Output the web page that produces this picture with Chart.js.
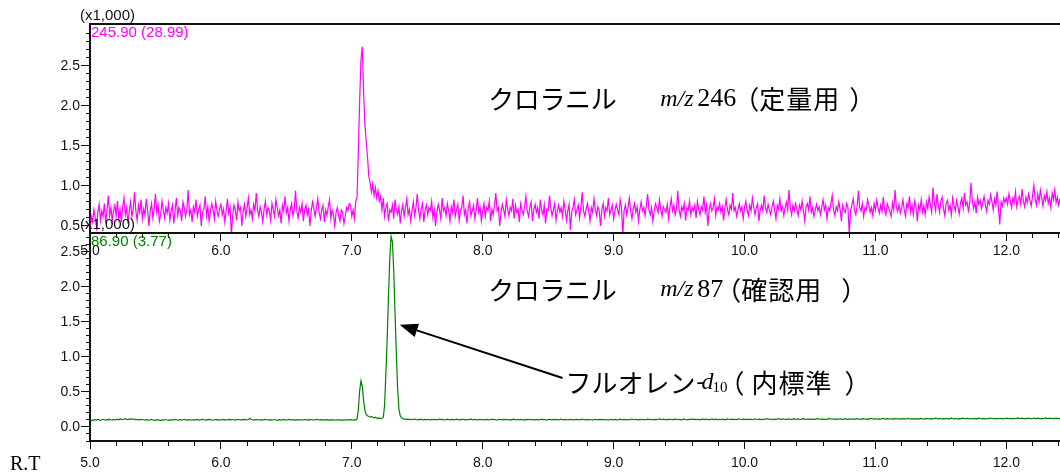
<!DOCTYPE html>
<html>
<head>
<meta charset="utf-8">
<script src="https://cdn.jsdelivr.net/npm/chart.js@4.4.1/dist/chart.umd.min.js"></script>
<style>
  html, body { margin: 0; padding: 0; background: #fff; }
  #wrap { position: relative; width: 1060px; height: 475px; overflow: hidden; }
  canvas { position: absolute; left: 0; }
  #top { top: 0; }
  #bottom { top: 205px; }
</style>
</head>
<body>
<div id="wrap">
  <canvas id="top" width="1060" height="262"></canvas>
  <canvas id="bottom" width="1060" height="270"></canvas>
</div>
<script>
// scan grid: one scan every 0.01 min from 5.00 min
const rtStart = 5.0
const rtStep = 0.01
const rtMin = 5.0
const rtMax = 12.41

// m/z 246 (quantitation ion), counts, 20 scans per row
const ion246 = [
  500,620,550,700,590,480,670,770,570,690,620,780,530,700,880,630,730,560,690,760,
  630,810,590,700,550,740,850,640,730,530,690,800,620,700,920,690,570,760,670,830,
  590,710,630,840,700,500,690,780,600,710,900,670,760,560,640,810,700,600,730,660,
  780,570,690,760,530,700,850,630,730,690,560,800,730,620,710,950,640,700,550,740,
  670,830,620,700,760,500,670,710,870,630,740,560,690,780,700,590,810,690,620,710,
  770,640,710,550,690,840,660,730,390,630,760,700,570,800,690,730,500,690,770,620,
  730,850,640,700,590,770,690,910,700,620,740,670,550,710,810,640,730,690,570,780,
  700,620,830,730,630,700,530,760,690,870,660,730,560,700,780,630,710,940,690,600,
  730,670,780,560,700,760,640,710,500,690,800,710,620,730,840,670,590,700,760,550,
  700,630,740,830,590,700,640,500,670,730,620,560,700,670,530,620,730,690,780,760,
  620,700,590,810,860,1430,2070,2580,2740,2180,1770,1560,1360,1120,1040,920,1030,880,980,850,
  940,810,870,700,850,620,730,780,560,700,670,760,590,830,700,640,740,530,690,770,
  620,730,840,640,710,560,690,800,630,730,900,690,590,710,780,550,700,760,640,730,
  690,810,600,700,500,670,770,700,590,850,690,730,630,780,690,560,740,670,830,620,
  700,770,570,690,730,880,640,700,530,730,800,630,690,760,590,700,850,670,730,560,
  690,780,620,730,690,810,560,710,640,760,910,690,730,500,670,770,700,620,830,710,
  630,730,690,840,590,760,670,710,550,780,700,640,740,870,690,620,730,800,560,700,
  770,670,730,590,830,700,640,760,530,710,690,880,730,630,700,780,570,690,760,670,
  730,620,810,700,570,690,770,450,670,730,830,640,700,760,600,730,920,690,620,710,
  780,690,560,730,670,840,710,630,740,690,500,700,780,620,730,690,850,640,700,760,
  590,690,770,700,640,830,730,390,690,760,640,730,850,690,590,710,780,670,740,560,
  700,800,690,730,630,760,900,700,640,730,560,690,780,730,670,830,710,620,740,700,
  670,770,590,730,840,690,760,640,710,940,700,620,740,690,780,570,730,700,810,640,
  730,690,760,600,810,710,640,740,700,870,670,760,500,700,780,690,730,840,630,740,
  700,780,670,740,570,730,830,700,640,760,710,910,690,730,620,700,780,690,740,590,
  730,810,700,630,760,690,850,740,640,730,780,560,700,760,690,880,730,670,770,700,
  640,740,810,700,590,760,710,840,690,740,630,730,800,700,950,730,640,760,690,780,
  710,630,760,700,810,690,560,740,780,700,870,670,730,620,700,770,690,740,640,730,
  830,700,760,590,730,690,780,880,700,630,740,690,800,710,560,760,700,670,780,730,
  400,690,760,840,700,640,740,940,730,690,780,620,730,700,830,760,670,730,630,780,
  700,820,730,660,760,680,860,700,640,780,730,680,620,790,700,950,730,680,770,660,
  730,830,700,620,780,730,870,670,760,640,810,730,560,760,700,830,670,750,640,800,
  720,860,760,670,980,790,690,900,760,670,810,860,720,630,780,820,700,760,640,850,
  760,690,820,740,650,790,850,720,910,760,800,690,780,1040,820,720,800,660,860,770,
  820,720,790,870,760,680,820,770,890,800,700,840,760,930,720,520,800,750,850,790,
  850,770,900,810,730,850,790,930,740,830,870,770,960,810,740,860,790,900,820,750,
  870,1010,840,760,900,800,950,850,750,880,820,930,780,850,730,910,830,950,790,860,
  760,840
]

// m/z 87 (qualifier ion), counts, 20 scans per row
const ion87 = [
  95,88,102,97,105,99,108,101,96,104,110,103,98,107,100,112,104,99,109,103,
  106,111,102,115,108,104,113,120,109,105,114,107,118,110,104,112,106,101,108,103,
  110,104,99,106,101,97,103,108,100,95,102,98,105,99,94,101,97,103,107,100,
  96,102,99,105,100,108,103,97,101,106,99,104,110,102,98,105,101,97,103,99,
  104,100,107,102,98,105,111,103,99,106,101,108,104,100,97,103,108,101,105,99,
  103,108,102,106,100,104,109,105,101,107,103,99,105,110,104,100,106,102,108,104,
  100,106,125,108,103,99,105,101,107,103,98,104,100,106,109,103,99,105,101,97,
  103,107,100,96,102,106,99,104,108,101,97,103,109,105,100,106,102,98,104,100,
  106,101,97,103,108,104,99,105,101,107,103,98,104,110,105,100,106,102,98,104,
  100,105,101,96,102,106,100,97,103,99,104,100,95,101,98,103,99,104,100,106,
  101,97,104,100,112,250,520,660,580,380,240,180,160,150,140,150,140,130,140,130,
  120,130,120,125,135,300,750,1250,1850,2400,2720,2650,2250,1650,1050,550,250,160,130,120,
  115,110,108,112,106,110,104,108,113,107,103,109,105,111,106,102,108,104,110,106,
  103,108,104,110,106,101,107,112,105,109,104,100,106,111,107,103,109,105,101,107,
  112,106,102,108,104,110,106,101,107,103,109,113,106,102,108,104,100,106,110,105,
  101,107,103,109,105,100,106,111,104,108,103,99,105,110,106,102,108,104,109,105,
  100,106,102,108,112,105,101,107,103,109,105,100,106,102,108,104,110,106,101,107,
  103,109,105,100,106,111,104,108,103,99,105,110,106,102,108,104,109,105,101,107,
  112,106,102,108,104,100,106,110,105,101,107,103,109,105,100,106,112,107,103,109,
  105,101,107,103,99,105,110,106,102,108,104,109,105,101,107,103,98,104,110,106,
  102,108,104,100,106,111,107,103,109,105,101,107,103,109,114,108,104,110,106,102,
  108,104,110,106,101,107,112,108,104,110,106,102,108,104,110,115,109,105,111,107,
  103,109,105,111,107,103,109,113,108,104,110,106,102,108,112,107,103,109,105,111,
  107,112,108,104,110,106,102,108,113,109,105,111,107,103,109,114,110,106,112,108,
  104,110,106,112,108,103,109,115,110,106,112,108,104,110,106,112,117,111,107,113,
  109,105,111,107,113,109,104,110,116,111,107,113,109,105,111,107,113,118,112,108,
  114,110,106,112,108,114,119,113,109,115,111,107,113,109,115,111,106,112,118,113,
  109,115,111,107,113,118,112,108,114,110,116,112,107,113,109,115,120,114,110,116,
  112,108,114,110,116,121,115,111,117,113,109,115,111,117,113,108,114,119,113,109,
  115,111,117,113,109,115,120,114,110,116,112,118,114,110,116,112,117,122,116,112,
  118,114,110,116,112,118,123,117,113,119,115,111,117,113,119,115,121,116,112,118,
  114,120,116,112,118,124,118,114,120,116,112,118,114,120,116,122,117,113,119,115,
  121,117,113,119,115,121,126,120,116,122,118,114,120,116,122,118,113,119,125,120,
  116,122,118,114,120,116,122,127,121,117,123,119,115,121,117,123,119,114,120,126,
  121,117,123,119,115,121,117,123,128,122,118,124,120,116,122,118,124,120,115,121,
  127,122,118,124,120,116,122,118,124,129,123,119,125,121,117,123,119,125,121,116,
  122,128,123,119,125,121,117,123,119,125,130,124,120,126,122,118,124,120,126,122,
  118,124
]

// intensity windows and labelled ticks of the two panels, counts
const ion246Range = [412, 3025]
const ion87Range = [-200, 2770]
const ion246Ticks = [500, 1000, 1500, 2000, 2500]
const ion87Ticks = [0, 500, 1000, 1500, 2000, 2500]

const rt = ion246.map((_, i) => +(rtStart + i * rtStep).toFixed(2))
const points = values => values.map((v, i) => ({ x: rt[i], y: v }))

const sans = "'Liberation Sans', Arial, sans-serif"
const serif = "'Liberation Serif', 'Times New Roman', serif"
const jp = "'Noto Sans CJK JP', sans-serif"
const ink = "#111"

// every 100 counts inside the window, leaving the top edge clear
function minorTicks(range) {
  const out = []
  for (let v = Math.ceil(range[0] / 100) * 100; v < range[1] - 50; v += 100) out.push({ value: v })
  return out
}

function xAxes(height, labelPad) {
  return {
    x: {
      type: "linear", position: "bottom", weight: 1, min: rtMin, max: rtMax,
      ticks: {
        stepSize: 1, includeBounds: false, autoSkip: false, maxRotation: 0,
        color: ink, padding: labelPad, font: { family: sans, size: 14 },
        callback: v => v.toFixed(1)
      },
      grid: { drawOnChartArea: false, tickLength: 8, color: ink },
      border: { color: ink, width: 2 },
      afterFit: s => { s.height = height }
    },
    xMinor: {
      type: "linear", position: "bottom", weight: 0, min: rtMin, max: rtMax,
      ticks: { display: false, stepSize: 0.2, includeBounds: false },
      grid: { drawOnChartArea: false, tickLength: 5, color: ink },
      border: { display: false },
      afterFit: s => { s.height = 0 }
    },
    xTop: {
      type: "linear", position: "top", min: rtMin, max: rtMax,
      ticks: { display: false },
      grid: { display: false },
      border: { color: ink, width: 2 },
      afterFit: s => { s.height = 0 }
    }
  }
}

function yAxes(range, majors) {
  return {
    y: {
      type: "linear", position: "left", weight: 1, min: range[0], max: range[1],
      ticks: {
        color: ink, padding: 1, autoSkip: false,
        font: { family: sans, size: 14 },
        callback: v => (v / 1000).toFixed(1)
      },
      grid: { drawOnChartArea: false, tickLength: 9, color: ink },
      border: { color: ink, width: 2 },
      afterBuildTicks: s => { s.ticks = majors.map(value => ({ value })) },
      afterFit: s => { s.width = 90 }
    },
    yMinor: {
      type: "linear", position: "left", weight: 0, min: range[0], max: range[1],
      ticks: { display: false },
      grid: { drawOnChartArea: false, tickLength: 4, color: ink },
      border: { display: false },
      afterBuildTicks: s => { s.ticks = minorTicks(range) },
      afterFit: s => { s.width = 0 }
    }
  }
}

function panelOptions(range, majors, xHeight, labelPad, padTop) {
  return {
    responsive: false,
    animation: false,
    devicePixelRatio: 1,
    events: [],
    layout: { padding: { top: padTop, left: 0, right: 0, bottom: 0 } },
    plugins: { legend: { display: false }, tooltip: { enabled: false } },
    scales: { ...xAxes(xHeight, labelPad), ...yAxes(range, majors) }
  }
}

// draws a run of text pieces along one centre line
function drawRun(ctx, x0, y0, pieces) {
  ctx.textBaseline = "middle"
  ctx.textAlign = "left"
  for (const p of pieces) {
    ctx.font = p.font
    ctx.letterSpacing = p.spacing || "0px"
    ctx.fillText(p.text, x0 + p.dx, y0 + (p.dy || 0))
  }
  ctx.letterSpacing = "0px"
}

function ionTitle(mass, role, roleDx, closeDx) {
  return [
    { text: "クロラニル", font: `26px ${jp}`, dx: -1, spacing: "-0.4px" },
    { text: "m/z", font: `italic 24px ${serif}`, dx: 171 },
    { text: mass, font: `26px ${serif}`, dx: 208 },
    { text: "（", font: `26px ${jp}`, dx: roleDx - 26 },
    { text: role, font: `26px ${jp}`, dx: roleDx, spacing: "1px" },
    { text: "）", font: `26px ${jp}`, dx: closeDx }
  ]
}

function header(ctx, area, note, color) {
  ctx.fillStyle = ink
  ctx.font = `15px ${sans}`
  ctx.textBaseline = "middle"
  ctx.fillText("(x1,000)", area.left - 10, area.top - 8)
  ctx.fillStyle = color
  ctx.font = `15px ${sans}`
  ctx.fillText(note, area.left + 1, area.top + 9)
}

const ion246Notes = {
  id: "ion246Notes",
  afterDraw(chart) {
    const { ctx, chartArea, scales: { x, y } } = chart
    ctx.save()
    header(ctx, chartArea, "245.90 (28.99)", "#ff00ff")
    ctx.fillStyle = "#000"
    drawRun(ctx, x.getPixelForValue(8.05), y.getPixelForValue(2080), ionTitle("246", "定量用", 270, 360))
    ctx.restore()
  }
}

const ion87Notes = {
  id: "ion87Notes",
  afterDraw(chart) {
    const { ctx, chartArea, scales: { x, y } } = chart
    ctx.save()
    header(ctx, chartArea, "86.90 (3.77)", "#008000")
    ctx.fillStyle = "#000"
    drawRun(ctx, x.getPixelForValue(8.05), y.getPixelForValue(1960), ionTitle("87", "確認用", 252, 352))

    // arrow from the label to the fluorene-d10 peak
    const tx = x.getPixelForValue(7.366), ty = y.getPixelForValue(1460)
    const sx = x.getPixelForValue(8.61), sy = y.getPixelForValue(700)
    const ang = Math.atan2(sy - ty, sx - tx)
    const head = 18, half = 7
    const bx = tx + head * Math.cos(ang), by = ty + head * Math.sin(ang)
    ctx.strokeStyle = "#000"
    ctx.lineWidth = 2
    ctx.beginPath()
    ctx.moveTo(sx, sy)
    ctx.lineTo(bx, by)
    ctx.stroke()
    ctx.beginPath()
    ctx.moveTo(tx, ty)
    ctx.lineTo(bx + half * Math.sin(ang), by - half * Math.cos(ang))
    ctx.lineTo(bx - half * Math.sin(ang), by + half * Math.cos(ang))
    ctx.closePath()
    ctx.fill()

    drawRun(ctx, x.getPixelForValue(8.641), y.getPixelForValue(630), [
      { text: "フルオレン", font: `26px ${jp}`, dx: -1, spacing: "0px" },
      { text: "-", font: `24px ${serif}`, dx: 130 },
      { text: "d", font: `italic 24px ${serif}`, dx: 135 },
      { text: "10", font: `15px ${serif}`, dx: 146, dy: 5 },
      { text: "（", font: `26px ${jp}`, dx: 152 },
      { text: "内標準", font: `26px ${jp}`, dx: 185, spacing: "1px" },
      { text: "）", font: `26px ${jp}`, dx: 278 }
    ])

    ctx.font = `20px ${serif}`
    ctx.textBaseline = "middle"
    ctx.fillText("R.T", 10, chartArea.bottom + 24)
    ctx.restore()
  }
}

new Chart(document.getElementById("top"), {
  type: "line",
  data: {
    datasets: [{
      data: points(ion246), parsing: false, borderColor: "#ff00ff",
      borderWidth: 1.2, pointRadius: 0, tension: 0, xAxisID: "x", yAxisID: "y"
    }]
  },
  options: panelOptions(ion246Range, ion246Ticks, 29, 2, 24),
  plugins: [ion246Notes]
})

new Chart(document.getElementById("bottom"), {
  type: "line",
  data: {
    datasets: [{
      data: points(ion87), parsing: false, borderColor: "#008000",
      borderWidth: 1.2, pointRadius: 0, tension: 0, xAxisID: "x", yAxisID: "y"
    }]
  },
  options: panelOptions(ion87Range, ion87Ticks, 34, 6, 28),
  plugins: [ion87Notes]
})
</script>
</body>
</html>
